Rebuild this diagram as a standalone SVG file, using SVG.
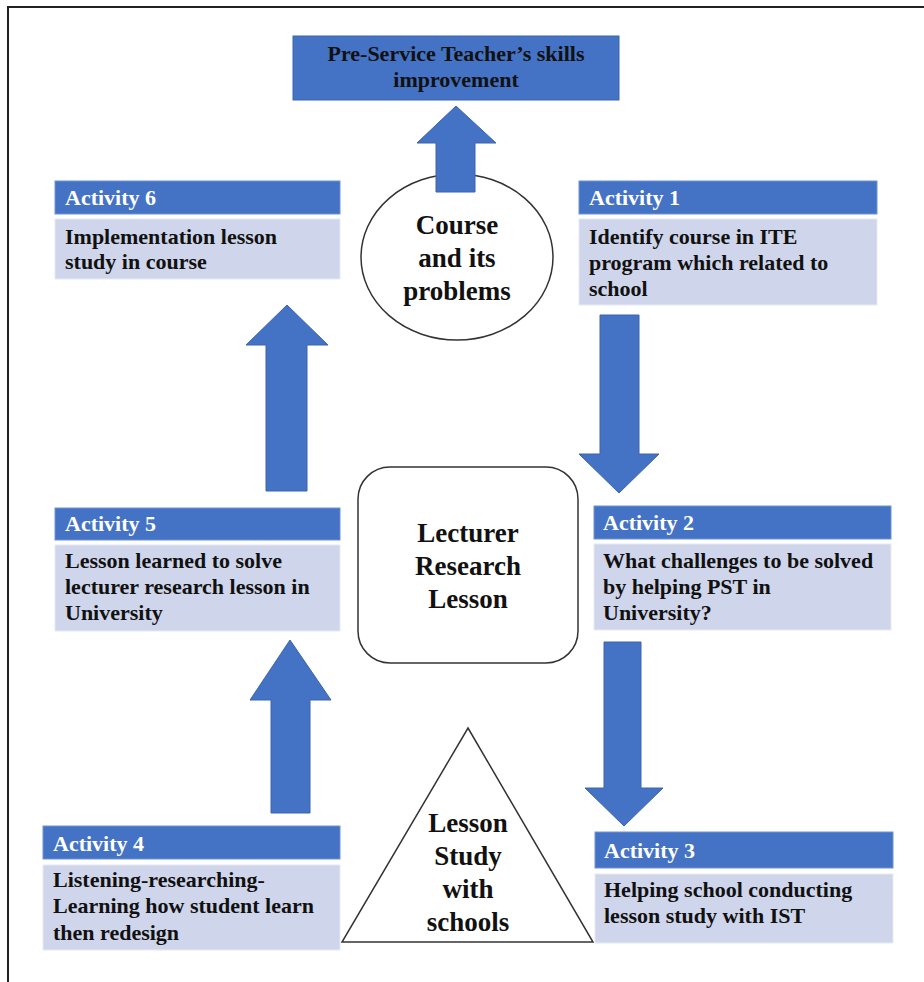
<svg xmlns="http://www.w3.org/2000/svg" width="924" height="982" viewBox="0 0 924 982">
<style>
.hd{fill:#4472C4;stroke:#6f93d3;stroke-width:1}
.bd{fill:#CFD5EA;stroke:#e6eaf5;stroke-width:1}
.ht{font-family:"Liberation Serif","Times New Roman",serif;font-weight:bold;font-size:22px;fill:#ffffff}
.bt{font-family:"Liberation Serif","Times New Roman",serif;font-weight:bold;font-size:22px;fill:#111111}
.ct{font-family:"Liberation Serif","Times New Roman",serif;font-weight:bold;font-size:27px;fill:#111111;text-anchor:middle}
.shape{fill:#ffffff;stroke:#333333;stroke-width:1.5}
.arr{fill:#4472C4;stroke:#3b64ad;stroke-width:1}
</style>
<rect x="0" y="0" width="924" height="982" fill="#ffffff"/>
<path d="M8,982 V7 H924" fill="none" stroke="#222222" stroke-width="2"/>

<g id="course">
<ellipse class="shape" cx="457" cy="257" rx="96" ry="83"/>
<text class="ct" x="457" y="234">Course</text>
<text class="ct" x="457" y="267">and its</text>
<text class="ct" x="457" y="300">problems</text>
</g>

<g id="lecturer">
<rect class="shape" x="358" y="467" width="220" height="196" rx="32"/>
<text class="ct" x="468" y="542">Lecturer</text>
<text class="ct" x="468" y="575">Research</text>
<text class="ct" x="468" y="608">Lesson</text>
</g>

<g id="lessonstudy">
<polygon class="shape" points="468,728 593,942 342,942"/>
<text class="ct" x="468" y="832">Lesson</text>
<text class="ct" x="468" y="865">Study</text>
<text class="ct" x="468" y="898">with</text>
<text class="ct" x="468" y="931">schools</text>
</g>

<g id="connectors">
<polygon class="arr" points="436,192 436,143 417,143 456,106 496,143 475,143 475,192"/>
<polygon class="arr" points="600,315 639,315 639,454 659,454 619,493 579,454 600,454"/>
<polygon class="arr" points="604,642 641,642 641,788 663,788 624,826 585,788 604,788"/>
<polygon class="arr" points="266,491 266,345 246,345 287,305 328,345 307,345 307,491"/>
<polygon class="arr" points="271,813 271,700 250,700 290,640 331,700 310,700 310,813"/>
</g>

<g id="goal">
<rect x="293" y="36" width="326" height="64" fill="#4472C4" stroke="#3b64ad" stroke-width="1"/>
<text class="bt" x="456" y="61" text-anchor="middle">Pre-Service Teacher’s skills</text>
<text class="bt" x="456" y="87" text-anchor="middle">improvement</text>
</g>

<g id="activity6">
<rect class="hd" x="55" y="181" width="285" height="33"/>
<text class="ht" x="65" y="205">Activity 6</text>
<rect class="bd" x="55" y="219" width="285" height="60"/>
<text class="bt" x="65" y="244">Implementation lesson</text>
<text class="bt" x="65" y="269">study in course</text>
</g>

<g id="activity1">
<rect class="hd" x="579" y="181" width="298" height="33"/>
<text class="ht" x="589" y="205">Activity 1</text>
<rect class="bd" x="579" y="219" width="298" height="86"/>
<text class="bt" x="589" y="244">Identify course in ITE</text>
<text class="bt" x="589" y="270">program which related to</text>
<text class="bt" x="589" y="296">school</text>
</g>

<g id="activity2">
<rect class="hd" x="594" y="506" width="297" height="33"/>
<text class="ht" x="603" y="530">Activity 2</text>
<rect class="bd" x="594" y="544" width="297" height="86"/>
<text class="bt" x="603" y="568">What challenges to be solved</text>
<text class="bt" x="603" y="594">by helping PST in</text>
<text class="bt" x="603" y="620">University?</text>
</g>

<g id="activity5">
<rect class="hd" x="55" y="508" width="285" height="32"/>
<text class="ht" x="65" y="531">Activity 5</text>
<rect class="bd" x="55" y="545" width="285" height="86"/>
<text class="bt" x="65" y="568">Lesson learned to solve</text>
<text class="bt" x="65" y="594">lecturer research lesson in</text>
<text class="bt" x="65" y="620">University</text>
</g>

<g id="activity4">
<rect class="hd" x="43" y="826" width="297" height="33"/>
<text class="ht" x="53" y="851">Activity 4</text>
<rect class="bd" x="43" y="865" width="297" height="85"/>
<text class="bt" x="53" y="887">Listening-researching-</text>
<text class="bt" x="53" y="913">Learning how student learn</text>
<text class="bt" x="53" y="940">then redesign</text>
</g>

<g id="activity3">
<rect class="hd" x="595" y="832" width="298" height="36"/>
<text class="ht" x="604" y="858">Activity 3</text>
<rect class="bd" x="595" y="874" width="298" height="69"/>
<text class="bt" x="604" y="897">Helping school conducting</text>
<text class="bt" x="604" y="923">lesson study with IST</text>
</g>
</svg>
